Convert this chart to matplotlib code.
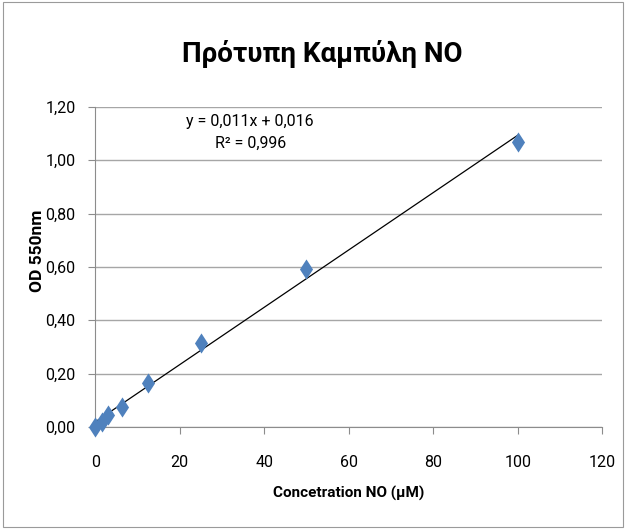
import numpy as np
import matplotlib
matplotlib.use("Agg")
import matplotlib.pyplot as plt
from matplotlib.patches import Rectangle
from matplotlib.ticker import FuncFormatter, MultipleLocator

plt.rcParams['font.family'] = ['Roboto', 'DejaVu Sans']

# Standard curve data (serial dilution of NO standard)
concentration = [0, 1.5625, 3.125, 6.25, 12.5, 25, 50, 100]
od_550 = [0.00, 0.02, 0.045, 0.075, 0.165, 0.315, 0.592, 1.068]

title = "Πρότυπη Καμπύλη NO"
xlabel = "Concetration NO (μM)"
ylabel = "OD 550nm"
equation = "y = 0,011x + 0,016"
r_squared = "R² = 0,996"

fig = plt.figure(figsize=(6.26, 5.29), dpi=100)
fig.patches.append(Rectangle((0.004, 0.004), 0.992, 0.992, transform=fig.transFigure,
                             fill=False, edgecolor='#9a9a9a', linewidth=0.8))
ax = fig.add_axes([0.152, 0.193, 0.810, 0.605])

# Linear trendline over the measured range
slope, intercept = np.polyfit(concentration, od_550, 1)
xs = np.array([min(concentration), max(concentration)])
ax.plot(xs, slope * xs + intercept, color='black', linewidth=0.9, zorder=3)

diamond = [(0, 1), (0.65, 0), (0, -1), (-0.65, 0), (0, 1)]
ax.plot(concentration, od_550, linestyle='none', marker=diamond, markersize=14.5,
        color='#4F81BD', markeredgewidth=0, zorder=4, clip_on=False)

ax.set_xlim(0, 120)
ax.set_ylim(0, 1.2)
ax.xaxis.set_major_locator(MultipleLocator(20))
ax.yaxis.set_major_locator(MultipleLocator(0.2))
ax.yaxis.set_major_formatter(FuncFormatter(lambda v, p: f"{v:.2f}".replace('.', ',')))
ax.grid(axis='y', color='#a6a6a6', linewidth=1.0)
ax.set_axisbelow(True)
for s in ['top', 'right']:
    ax.spines[s].set_visible(False)
for s in ['left', 'bottom']:
    ax.spines[s].set_color('#8c8c8c')
ax.tick_params(axis='both', colors='#8c8c8c', labelcolor='black', labelsize=11.5,
               length=5, direction='out')
ax.tick_params(axis='x', pad=15)
ax.tick_params(axis='y', pad=9)

ax.set_xlabel(xlabel, fontsize=11, fontweight='bold', va='center')
ax.xaxis.set_label_coords(0.5, -0.209)
ax.set_ylabel(ylabel, fontsize=12.5, fontweight='bold', va='center')
ax.yaxis.set_label_coords(-0.114, 0.55)
fig.suptitle(title, x=0.515, y=0.925, fontsize=20, fontweight='bold')

ax.text(0.306, 0.953, equation, transform=ax.transAxes, ha='center', va='center', fontsize=11.5)
ax.text(0.306, 0.8875, r_squared, transform=ax.transAxes, ha='center', va='center', fontsize=11.5)

fig.savefig("out.png", dpi=100)
